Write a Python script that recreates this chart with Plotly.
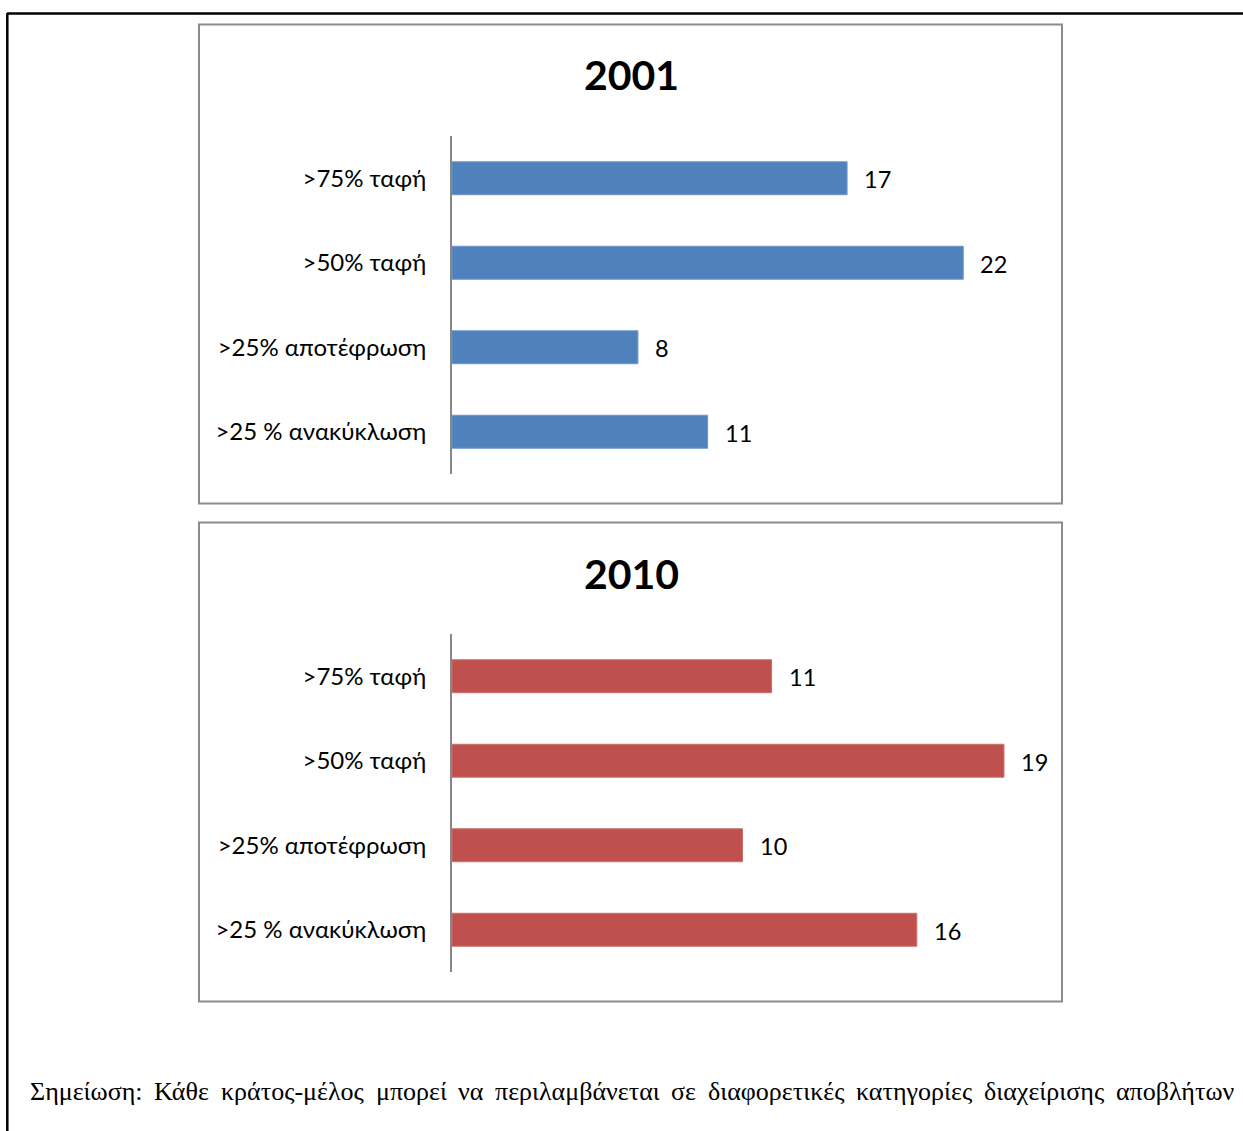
import plotly.graph_objects as go

categories = [">75% ταφή", ">50% ταφή", ">25% αποτέφρωση", ">25 % ανακύκλωση"]
values_2001 = [17, 22, 8, 11]
values_2010 = [11, 19, 10, 16]
titles = ["2001", "2010"]
note = "Σημείωση: Κάθε κράτος-μέλος μπορεί να περιλαμβάνεται σε διαφορετικές κατηγορίες διαχείρισης αποβλήτων"

W, H = 1243, 1131
def py(p):
    return 1 - p / H
def px(p):
    return p / W

FONT = "Lato"
NOTE_FONT = "Liberation Serif"
NOTE_SIZE = 26
blue, red = "#4F81BD", "#C0504D"

# optional text measurement for justified note
measure = None
try:
    import glob
    from fontTools.ttLib import TTFont
    cands = glob.glob("/usr/share/fonts/**/LiberationSerif-Regular.ttf", recursive=True)
    if cands:
        _f = TTFont(cands[0])
        _cmap = _f.getBestCmap()
        _hmtx = _f["hmtx"]
        _upm = _f["head"].unitsPerEm
        def measure(s, size):
            return sum(_hmtx[_cmap[ord(ch)]][0] for ch in s) / _upm * size
except Exception:
    measure = None

fig = go.Figure()
panels = [
    dict(vals=values_2001, color=blue, edge="#6d97c9", xa="x", ya="y", rng=25, top=136, bot=474, box=(24.5, 503.5), title=titles[0], ty=75),
    dict(vals=values_2010, color=red, edge="#cc6f6c", xa="x2", ya="y2", rng=20, top=634, bot=972, box=(522.5, 1001.5), title=titles[1], ty=573),
]

x_dom = [px(452), px(1033)]
annotations = []
shapes = []
for i, p in enumerate(panels):
    fig.add_trace(go.Bar(
        x=p["vals"], y=categories, orientation="h",
        marker=dict(color=p["color"], line=dict(color=p["edge"], width=1)),
        width=0.39, xaxis=p["xa"], yaxis=p["ya"], showlegend=False, hoverinfo="skip",
    ))
    for c, v in zip(categories, p["vals"]):
        annotations.append(dict(
            x=v, y=c, xref=p["xa"], yref=p["ya"], text=str(v), showarrow=False,
            xanchor="left", yanchor="middle", xshift=15, yshift=-1,
            font=dict(family=FONT, size=23.5, color="black"),
        ))
    annotations.append(dict(
        x=px(631), y=py(p["ty"]), xref="paper", yref="paper", text="<b>%s</b>" % p["title"],
        showarrow=False, xanchor="center", yanchor="middle", font=dict(family=FONT, size=41, color="black"),
    ))
    shapes.append(dict(type="rect", xref="paper", yref="paper",
                       x0=px(199), x1=px(1062), y0=py(p["box"][1]), y1=py(p["box"][0]),
                       line=dict(color="#8c8c8c", width=2), fillcolor="rgba(0,0,0,0)", layer="below"))
    ax = "xaxis" if i == 0 else "xaxis2"
    ay = "yaxis" if i == 0 else "yaxis2"
    fig.update_layout(**{
        ax: dict(domain=x_dom, range=[0, p["rng"]], visible=False, anchor=p["ya"]),
        ay: dict(domain=[py(p["bot"]), py(p["top"])], type="category", categoryorder="array",
                 categoryarray=categories, autorange="reversed", anchor=p["xa"],
                 showline=True, linecolor="#878787", linewidth=2, showgrid=False, ticks="",
                 ticklabelstandoff=19, tickfont=dict(family=FONT, size=24, color="black")),
    })

# outer frame (top and left lines)
shapes.append(dict(type="line", xref="paper", yref="paper", x0=px(7), x1=1.0, y0=py(13.5), y1=py(13.5),
                   line=dict(color="black", width=2.5)))
shapes.append(dict(type="line", xref="paper", yref="paper", x0=px(7.3), x1=px(7.3), y0=py(13), y1=0,
                   line=dict(color="black", width=2.5)))

# justified note line from x=28 to x=1232
left, right = 28, 1232
words = note.split(" ")
placed = False
if measure is not None:
    try:
        widths = [measure(w, NOTE_SIZE) for w in words]
        gap = (right - left - sum(widths)) / (len(words) - 1)
        xcur = left
        for w, wd in zip(words, widths):
            annotations.append(dict(
                x=px(xcur), y=py(1091), xref="paper", yref="paper", text=w, showarrow=False,
                xanchor="left", yanchor="middle",
                font=dict(family=NOTE_FONT, size=NOTE_SIZE, color="black"),
            ))
            xcur += wd + gap
        placed = True
    except Exception:
        placed = False
if not placed:
    thin = "\u2009"
    spaced = (" " + thin).join(words[:6]) + " " + (" " + thin).join(words[6:])
    annotations.append(dict(
        x=px(left), y=py(1091), xref="paper", yref="paper", text=spaced, showarrow=False,
        xanchor="left", yanchor="middle", font=dict(family=NOTE_FONT, size=NOTE_SIZE, color="black"),
    ))

fig.update_layout(
    width=W, height=H, margin=dict(l=0, r=0, t=0, b=0),
    paper_bgcolor="white", plot_bgcolor="white",
    annotations=annotations, shapes=shapes,
)

fig.write_html("out.html")
